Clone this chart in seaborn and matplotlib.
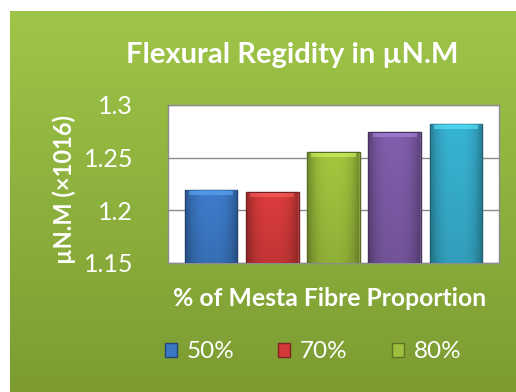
import numpy as np
import pandas as pd
import matplotlib
matplotlib.use("Agg")
import matplotlib.pyplot as plt
import matplotlib.colors as mcolors
import seaborn as sns

# Flexural rigidity per mesta fibre proportion
categories = ["50%", "70%", "80%", "90%", "100%"]
values = [1.219, 1.217, 1.255, 1.274, 1.282]
bar_colors = ["#3b78c4", "#d43a3a", "#9cbf3c", "#7c5ba6", "#36adcc"]
legend_labels = ["50%", "70%", "80%"]
y_ticks = [1.15, 1.2, 1.25, 1.3]
y_tick_labels = ["1.15", "1.2", "1.25", "1.3"]
y_min, y_max = 1.15, 1.3

sns.set_theme(style="white")
plt.rcParams["font.family"] = ["Lato", "DejaVu Sans"]

W, H = 516, 392
fig = plt.figure(figsize=(W / 100, H / 100), dpi=100)
fig.patch.set_facecolor("white")

# green gradient panel behind the chart
bg = fig.add_axes([10 / W, 0, (W - 10) / W, (H - 11) / H])
bg.set_axis_off()
grad = np.linspace(0, 1, 256).reshape(-1, 1)
cmap = mcolors.LinearSegmentedColormap.from_list("panel", ["#9ec548", "#7c9c32"])
bg.imshow(grad, aspect="auto", cmap=cmap, extent=[0, 1, 0, 1], origin="upper")
bg.set_xlim(0, 1)
bg.set_ylim(0, 1)

ax = fig.add_axes([168 / W, 1 - 263 / H, (499 - 168) / W, (263 - 105) / H])
df = pd.DataFrame({"cat": categories, "val": values})
sns.barplot(data=df, x="cat", y="val", hue="cat", palette=bar_colors,
            width=0.86, legend=False, ax=ax, zorder=3)

# bevelled shading on each bar (visible part only)
for patch, col in zip(ax.patches, bar_colors):
    base = np.array(mcolors.to_rgb(col))
    patch.set_edgecolor(tuple(base * 0.55))
    patch.set_linewidth(1.0)
    x0, w = patch.get_x(), patch.get_width()
    top = patch.get_y() + patch.get_height()
    bot = max(patch.get_y(), y_min)
    xs = np.linspace(-1, 1, 64)
    ys = np.linspace(0, 1, 32)
    shade = (1 - 0.28 * np.abs(xs) ** 3)[None, :] * (1.04 - 0.12 * ys)[:, None]
    img = np.clip(base[None, None, :] * shade[:, :, None], 0, 1)
    inset = w * 0.02
    ax.imshow(img, extent=[x0 + inset, x0 + w - inset, bot, top - 0.0006],
              aspect="auto", zorder=3.5, interpolation="bilinear", origin="upper")
    # lighter cap at the top
    ax.fill_between([x0 + w * 0.08, x0 + w * 0.92], top - 0.0045, top - 0.0008,
                    color=tuple(np.clip(base * 1.2 + 0.12, 0, 1)), alpha=0.55,
                    zorder=3.6, linewidth=0)

ax.set_xlim(-0.7, 4.7)
ax.set_ylim(y_min, y_max)
ax.set_facecolor("white")
ax.set_yticks(y_ticks)
ax.set_yticklabels(y_tick_labels)
ax.set_xticks([])
ax.set_xlabel("")
ax.set_ylabel("")
ax.yaxis.grid(True, color="#8c8c8c", linewidth=1.0, zorder=0)
ax.set_axisbelow(True)
for s in ax.spines.values():
    s.set_color("#8c8c8c")
    s.set_linewidth(1.0)
ax.tick_params(axis="y", colors="white", labelsize=18, length=0, pad=25)
for lbl in ax.get_yticklabels():
    lbl.set_color("white")
    lbl.set_ha("right")

fig.text(292 / W, 1 - 55 / H, "Flexural Regidity in µN.M", color="white",
         fontsize=21, fontweight="bold", ha="center", va="center")
fig.text(64 / W, 1 - 189 / H, "µN.M (×1016)", color="white", fontsize=17,
         fontweight="bold", rotation=90, ha="center", va="center")
fig.text(330 / W, 1 - 298 / H, "% of Mesta Fibre Proportion", color="white",
         fontsize=17.8, fontweight="bold", ha="center", va="center")

handles = [plt.Rectangle((0, 0), 1, 1, facecolor=c,
                         edgecolor=tuple(np.array(mcolors.to_rgb(c)) * 0.6))
           for c in bar_colors[:3]]
leg = fig.legend(handles, legend_labels, loc="center", ncol=3,
                 bbox_to_anchor=(313 / W, 1 - 352 / H), frameon=False,
                 fontsize=17.5, handlelength=0.5, handleheight=0.5,
                 handletextpad=0.4, columnspacing=1.8)
for t in leg.get_texts():
    t.set_color("white")

fig.savefig("out.png", dpi=100)
